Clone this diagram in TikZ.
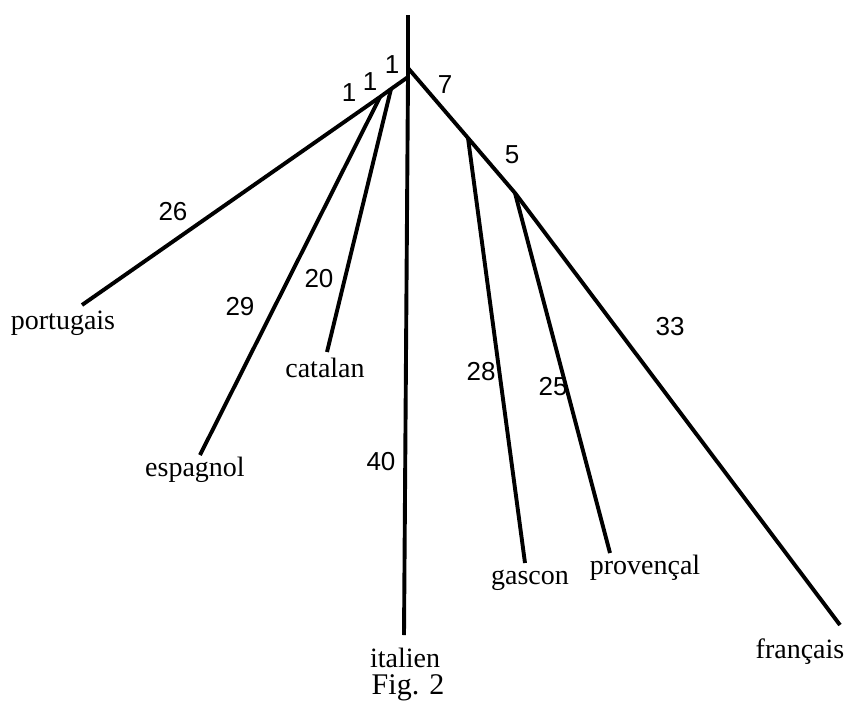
\documentclass[tikz,border=0pt]{standalone}
\usepackage{fontspec}
\setmainfont{Liberation Serif}
\newfontfamily\numfont{Liberation Sans}
\begin{document}
\begin{tikzpicture}[x=1pt,y=-1pt,
  br/.style={line width=3.9pt},
  lab/.style={inner sep=0pt,font=\fontsize{28}{30}\selectfont},
  num/.style={inner sep=0pt,font=\numfont\fontsize{26}{28}\selectfont}]
\useasboundingbox (0,0) rectangle (849,702);
% junctions
\coordinate (top) at (408,15);
\coordinate (rr) at (408,68);
\coordinate (rl) at (408,77);
\coordinate (jc) at (391,89);
\coordinate (je) at (380,97);
\coordinate (jg) at (468,138);
\coordinate (jp) at (515,193);
% leaf ends
\coordinate (ep) at (82,305);
\coordinate (ee) at (200,455);
\coordinate (ec) at (327,352);
\coordinate (ei) at (404,635);
\coordinate (eg) at (525,563);
\coordinate (epr) at (610,553);
\coordinate (ef) at (840,625);
% branches
\draw[br] (top) -- (rr) -- (rl) -- (ei);
\draw[br] (rl) -- (jc) -- (je) -- (ep);
\draw[br] (jc) -- (ec);
\draw[br] (je) -- (ee);
\draw[br] (rr) -- (jg) -- (jp) -- (ef);
\draw[br] (jg) -- (eg);
\draw[br] (jp) -- (epr);
% leaf labels
\node[lab] (lp) at (63,323) {portugais};
\node[lab] (le) at (195,470) {espagnol};
\node[lab] (lc) at (325,368) {catalan};
\node[lab] (li) at (405,658) {italien};
\node[lab] (lg) at (530,580) {gascon};
\node[lab] (lpr) at (645,568) {provençal};
\node[lab] (lf) at (800,652) {français};
\node[lab,font=\fontsize{30}{32}\selectfont] (fig) at (408,688) {Fig. 2};
% branch lengths
\node[num] (n1a) at (349,93) {1};
\node[num] (n1b) at (370,82) {1};
\node[num] (n1c) at (392,65) {1};
\node[num] (n7) at (445,85) {7};
\node[num] (n5) at (512,155) {5};
\node[num] (n26) at (173,212) {26};
\node[num] (n29) at (240,307) {29};
\node[num] (n20) at (319,279) {20};
\node[num] (n40) at (381,462) {40};
\node[num] (n28) at (481,372) {28};
\node[num] (n25) at (553,387) {25};
\node[num] (n33) at (670,327) {33};
\end{tikzpicture}
\end{document}
